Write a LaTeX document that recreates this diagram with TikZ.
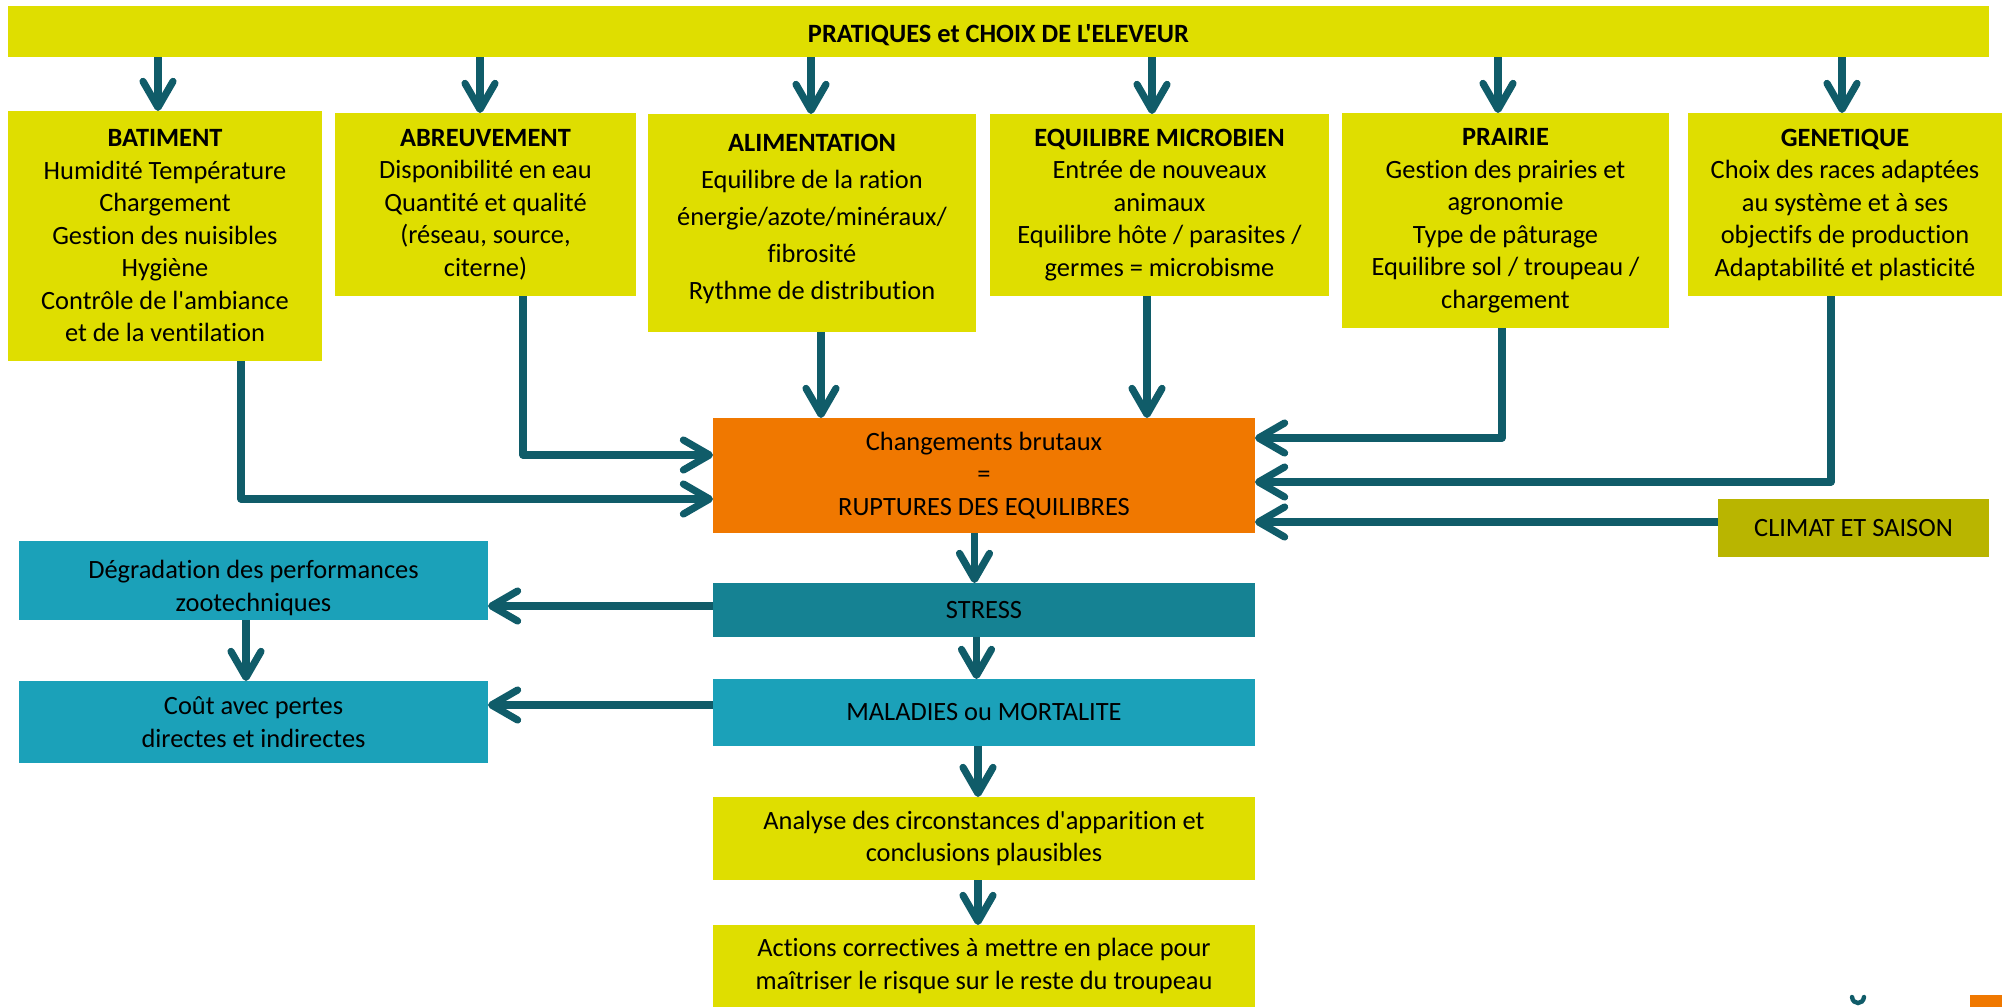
\documentclass[tikz,border=0pt]{standalone}
\usepackage{fontspec}
\setmainfont{Carlito}[Ligatures={CommonOff,TeXOff}]
\usetikzlibrary{arrows.meta}
\definecolor{yellowc}{RGB}{223,222,0}
\definecolor{orangec}{RGB}{240,120,0}
\definecolor{arrowc}{RGB}{16,92,105}
\definecolor{stressc}{RGB}{21,130,147}
\definecolor{bluec}{RGB}{27,161,185}
\definecolor{climc}{RGB}{185,181,0}
\tikzset{
  bx/.style={inner sep=0pt, outer sep=0pt, align=center, font=\fontsize{13.2}{16.25}\selectfont, text=black},
  txt/.style={inner sep=0pt, outer sep=0pt, align=center, font=\fontsize{13.2}{16.25}\selectfont, text=black},
  arr/.style={draw=arrowc, line width=3.6pt, line join=round,
    -{Straight Barb[round, length=13pt, width=15pt]}},
}
\begin{document}
\begin{tikzpicture}[x=0.5pt,y=-0.5pt]
\useasboundingbox (0,0) rectangle (2002,1007);

% top bar
\node[bx, fill=yellowc, minimum width=990.5pt, minimum height=25.5pt] (top) at (998.5,31.5) {};
\node[txt] (topT) at (998.5,35.5) {\textbf{PRATIQUES et CHOIX DE L'ELEVEUR}};

% second row
\node[bx, fill=yellowc, minimum width=157pt, minimum height=125pt] (bat) at (165,236)
  {\textbf{BATIMENT}\\Humidité Température\\Chargement\\Gestion des nuisibles\\Hygiène\\Contrôle de l'ambiance\\et de la ventilation};
\node[bx, fill=yellowc, minimum width=150.5pt, minimum height=91.5pt] (abr) at (485.5,204.5)
  {\textbf{ABREUVEMENT}\\Disponibilité en eau\\Quantité et qualité\\(réseau, source,\\citerne)};
\node[bx, fill=yellowc, minimum width=164pt, minimum height=109pt] (ali) at (812,223) {};
\node[txt, font=\fontsize{13.2}{18.5}\selectfont] (aliT) at (812,219)
  {\textbf{ALIMENTATION}\\Equilibre de la ration\\énergie/azote/minéraux/\\fibrosité\\Rythme de distribution};
\node[bx, fill=yellowc, minimum width=169.5pt, minimum height=91pt] (eqm) at (1159.5,205)
  {\textbf{EQUILIBRE MICROBIEN}\\Entrée de nouveaux\\animaux\\Equilibre hôte / parasites /\\germes = microbisme};
\node[bx, fill=yellowc, minimum width=163.5pt, minimum height=107.5pt] (pra) at (1505.5,220.5)
  {\textbf{PRAIRIE}\\Gestion des prairies et\\agronomie\\Type de pâturage\\Equilibre sol / troupeau /\\chargement};
\node[bx, fill=yellowc, minimum width=157pt, minimum height=91.5pt] (gen) at (1845,204.5)
  {\textbf{GENETIQUE}\\Choix des races adaptées\\au système et à ses\\objectifs de production\\Adaptabilité et plasticité};

% central column
\node[bx, fill=orangec, minimum width=271pt, minimum height=57.5pt] (org) at (984,475.5)
  {Changements brutaux\\=\\RUPTURES DES EQUILIBRES};
\node[bx, fill=climc, minimum width=135.5pt, minimum height=29pt] (cli) at (1853.5,528) {CLIMAT ET SAISON};
\node[bx, fill=stressc, minimum width=271pt, minimum height=27pt] (str) at (984,610) {STRESS};
\node[bx, fill=bluec, minimum width=271pt, minimum height=33.5pt] (mal) at (984,712.5) {MALADIES ou MORTALITE};
\node[bx, fill=yellowc, minimum width=271pt, minimum height=41.5pt] (ana) at (984,838.5)
  {Analyse des circonstances d'apparition et\\conclusions plausibles};
\node[bx, fill=yellowc, minimum width=271pt, minimum height=41pt] (act) at (984,966)
  {Actions correctives à mettre en place pour\\maîtriser le risque sur le reste du troupeau};

% left column
\node[bx, fill=bluec, minimum width=234.5pt, minimum height=39.5pt] (deg) at (253.5,580.5) {};
\begin{scope}
  \clip (19,541) rectangle (488,620);
  \node[txt] (degT) at (253.5,588) {Dégradation des performances\\zootechniques};
\end{scope}
\node[bx, fill=bluec, minimum width=234.5pt, minimum height=41pt] (cou) at (253.5,722)
  {Coût avec pertes\\directes et indirectes};

% arrows from top bar
\draw[arr] ([xshift=-3.5pt]bat.north |- top.south) -- ([xshift=-3.5pt]bat.north);
\draw[arr] ([xshift=-2.75pt]abr.north |- top.south) -- ([xshift=-2.75pt]abr.north);
\draw[arr] ([xshift=-0.5pt]ali.north |- top.south) -- ([xshift=-0.5pt]ali.north);
\draw[arr] ([xshift=-3.75pt]eqm.north |- top.south) -- ([xshift=-3.75pt]eqm.north);
\draw[arr] ([xshift=-3.75pt]pra.north |- top.south) -- ([xshift=-3.75pt]pra.north);
\draw[arr] ([xshift=-1.5pt]gen.north |- top.south) -- ([xshift=-1.5pt]gen.north);

% arrows into ruptures
\draw[arr] ([xshift=38pt]bat.south) |- ([yshift=-11.75pt]org.west);
\draw[arr] ([xshift=18.75pt]abr.south) |- ([yshift=10.25pt]org.west);
\draw[arr] ([xshift=4.5pt]ali.south) -- ([xshift=4.5pt]ali.south |- org.north);
\draw[arr] ([xshift=-6.25pt]eqm.south) -- ([xshift=-6.25pt]eqm.south |- org.north);
\draw[arr] ([xshift=-1.75pt]pra.south) |- ([yshift=18.75pt]org.east);
\draw[arr] ([xshift=-7pt]gen.south) |- ([yshift=-3.25pt]org.east);
\draw[arr] ([yshift=3pt]cli.west) -- ([yshift=3pt]cli.west -| org.east);

% lower flow
\draw[arr] ([xshift=-4.75pt]org.south) -- ([xshift=-4.75pt]org.south |- str.north);
\draw[arr] ([yshift=2pt]str.west) -- ([yshift=2pt]str.west -| deg.east);
\draw[arr] ([xshift=-3.75pt]str.south) -- ([xshift=-3.75pt]str.south |- mal.north);
\draw[arr] ([yshift=3.75pt]mal.west) -- ([yshift=3.75pt]mal.west -| cou.east);
\draw[arr] ([xshift=-3.75pt]deg.south) -- ([xshift=-3.75pt]deg.south |- cou.north);
\draw[arr] ([xshift=-3pt]mal.south) -- ([xshift=-3pt]mal.south |- ana.north);
\draw[arr] ([xshift=-3pt]ana.south) -- ([xshift=-3pt]ana.south |- act.north);

% cut-off logo fragments at the bottom right
\fill[orangec] (1970,995) rectangle (2002,1007);
\draw[arrowc, line width=2.2pt, line cap=round] (1852,997) .. controls (1853,1005) and (1863,1005) .. (1864,997);
\end{tikzpicture}
\end{document}
